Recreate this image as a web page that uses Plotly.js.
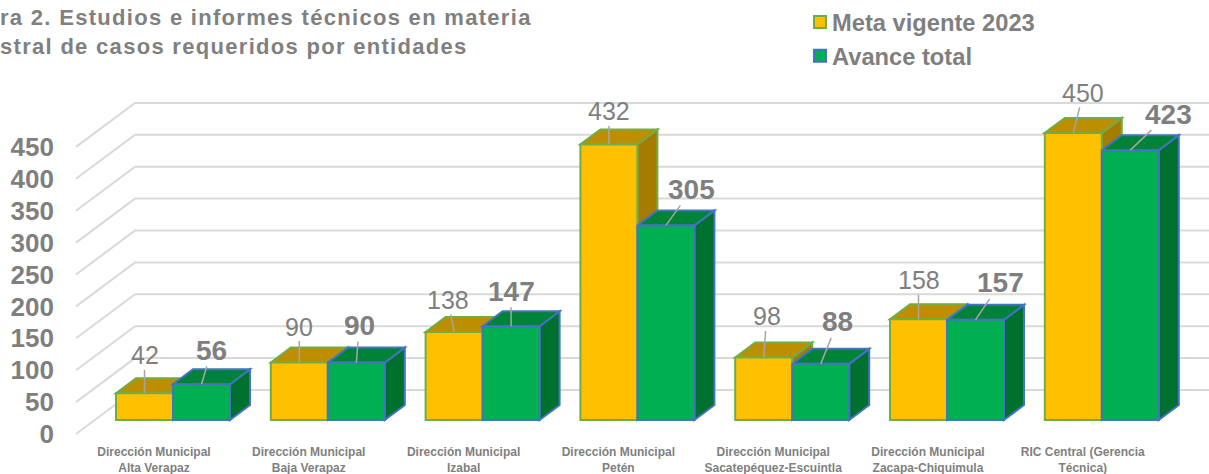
<!DOCTYPE html>
<html><head><meta charset="utf-8">
<script src="https://cdn.plot.ly/plotly-3.0.1.min.js"></script>
<style>html,body{margin:0;padding:0;background:#fff;overflow:hidden}#c{width:1209px;height:474px}
.legend .legendpoints{transform:translateX(8px)}</style>
</head><body><div id="c"></div>
<script>
const categories = ["Dirección Municipal<br>Alta Verapaz","Dirección Municipal<br>Baja Verapaz","Dirección Municipal<br>Izabal","Dirección Municipal<br>Petén","Dirección Municipal<br>Sacatepéquez-Escuintla","Dirección Municipal<br>Zacapa-Chiquimula","RIC Central (Gerencia<br>Técnica)"];
const metaVigente = [42,90,138,432,98,158,450];
const avanceTotal = [56,90,147,305,88,157,423];
const yTicks = [0,50,100,150,200,250,300,350,400,450];
const titleLines = ["ra 2. Estudios e informes técnicos en materia","stral de casos requeridos por entidades"];

// label offsets (pixels from the bar top) - styling, not data
const metaOffsets = [[0,-38],[0,-36],[-6,-32],[0,-33],[3,-41],[0,-39],[10,-40]];
const avanceOffsets = [[10,-34],[3,-37],[0,-35],[26,-36],[17,-42],[25,-37],[38,-36]];

// scale of the picture
const W=1209,H=474, mL=55, mB=31;
const pxX=154.8, x0Px=173, pxY=0.638, y0Px=420;
const xRange=[(mL-x0Px)/pxX,(W-x0Px)/pxX];
const yRange=[(y0Px-(H-mB))/pxY,y0Px/pxY];
const barW=57/pxX, depthX=20/pxX, depthY=15/pxY;
const floorFrontX=(76-x0Px)/pxX, floorBackX=(135-x0Px)/pxX;
const floorFrontY=-14/pxY, floorBackY=30/pxY;

const GRAY='#7F7F7F';
const shapes=[];
yTicks.forEach(v=>{
  shapes.push({type:'path',layer:'below',xref:'x',yref:'y',
    path:`M${floorFrontX},${v+floorFrontY} L${floorBackX},${v+floorBackY} L${xRange[1]},${v+floorBackY}`,
    line:{color:'#D9D9D9',width:2}});
});
function faces(vals,side,left,right,line){
  vals.forEach((v,i)=>{
    const a=i+left,b=i+right;
    shapes.push({type:'path',layer:'below',xref:'x',yref:'y',fillcolor:side,
      line:{color:line,width:2},
      path:`M${b},0 L${b+depthX},${depthY} L${b+depthX},${v+depthY} L${b},${v} Z`});
    shapes.push({type:'path',layer:'below',xref:'x',yref:'y',fillcolor:left<0?'#BD8F00':'#008237',
      line:{color:line,width:2},
      path:`M${a},${v} L${a+depthX},${v+depthY} L${b+depthX},${v+depthY} L${b},${v} Z`});
  });
}
faces(metaVigente,'#A67C00',-barW,0,'#70AD47');
faces(avanceTotal,'#00702F',0,barW,'#4472C4');

function labels(vals,off,dx,bold){
  return vals.map((v,i)=>({
    x:i+dx,y:v,xref:'x',yref:'y',text:bold?`<b>${v}</b>`:String(v),
    showarrow:true,arrowhead:0,arrowwidth:1.5,arrowcolor:'#A6A6A6',
    ax:off[i][0],ay:off[i][1],borderpad:0,
    font:{family:'Liberation Sans',size:bold?28:25,color:GRAY}
  }));
}
const titleAnn=titleLines.map((t,i)=>({
  xref:'paper',yref:'paper',x:(-2-mL)/(W-mL),xanchor:'left',
  y:1-(18+29*i)/(H-mB),yanchor:'middle',showarrow:false,
  text:`<span style="letter-spacing:1.3px"><b>${t}</b></span>`,font:{family:'Liberation Sans',size:22,color:'#808080'}
}));

const traces=[
 {type:'bar',name:'Meta vigente 2023',x:categories.map((_,i)=>i),y:metaVigente,legendgroup:'a',
  marker:{color:'#FFC000',line:{color:'#70AD47',width:2}},cliponaxis:false},
 {type:'bar',name:'Avance total',x:categories.map((_,i)=>i),y:avanceTotal,legendgroup:'b',
  marker:{color:'#00B050',line:{color:'#4472C4',width:2}},cliponaxis:false}
];
const layout={
  width:W,height:H,margin:{l:mL,r:0,t:0,b:mB},
  paper_bgcolor:'#fff',plot_bgcolor:'#fff',showlegend:true,
  barmode:'group',bargap:1-2*barW,bargroupgap:0,
  font:{family:'Liberation Sans',color:GRAY},
  xaxis:{range:xRange,tickmode:'array',tickvals:categories.map((_,i)=>i-0.123),ticktext:categories,
    showgrid:false,zeroline:false,showline:false,ticks:'',tickangle:0,
    tickfont:{family:'Liberation Sans',size:12,color:GRAY,weight:700}},
  yaxis:{range:yRange,tickmode:'array',tickvals:yTicks.map(v=>v+floorFrontY),ticktext:yTicks.map(String),
    showgrid:false,zeroline:false,showline:false,ticks:'',
    tickfont:{family:'Liberation Sans',size:26,color:GRAY,weight:700}},
  legend:{x:(792-mL)/(W-mL),xanchor:'left',y:1,yanchor:'top',bgcolor:'rgba(0,0,0,0)',
    tracegroupgap:22,traceorder:'normal',
    font:{family:'Liberation Sans',size:23.7,color:GRAY,weight:700}},
  shapes,
  annotations:[...titleAnn,...labels(metaVigente,metaOffsets,-barW/2,false),...labels(avanceTotal,avanceOffsets,barW/2,true)]
};
Plotly.newPlot('c',traces,layout,{displayModeBar:false,staticPlot:true});
</script></body></html>
